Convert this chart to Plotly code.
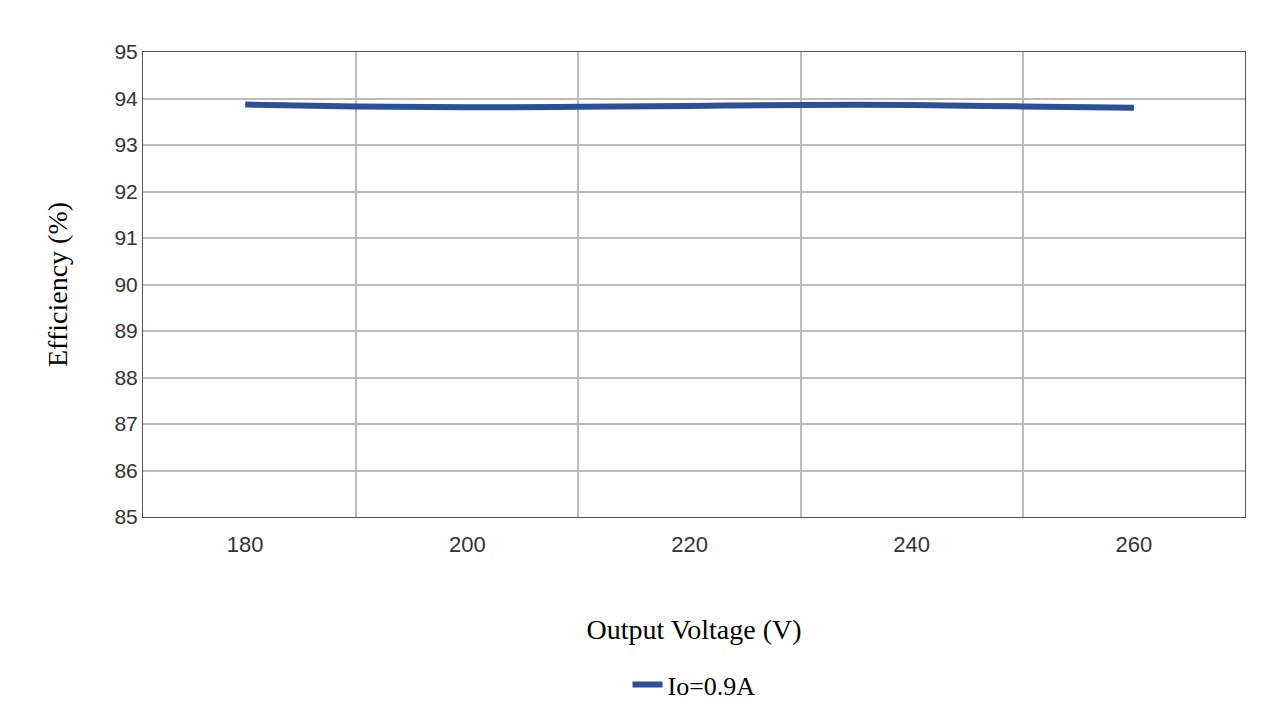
import plotly.graph_objects as go

voltage = [180, 190, 200, 210, 220, 230, 240, 250, 260]
efficiency = [93.87, 93.83, 93.81, 93.82, 93.84, 93.86, 93.86, 93.83, 93.8]

fig = go.Figure()
fig.add_trace(go.Scatter(x=voltage, y=efficiency, mode="lines", name="Io=0.9A",
                         line=dict(color="#2c4f98", width=6, shape="spline")))
fig.update_layout(
    width=1280, height=720, paper_bgcolor="white", plot_bgcolor="white",
    margin=dict(l=135, r=43, t=44, b=211),
    showlegend=True,
    legend=dict(orientation="h", x=0.5, xanchor="center", y=-0.31, yanchor="top",
                font=dict(family="Liberation Serif", size=26, color="black")),
    xaxis=dict(range=[170.8, 270], tick0=180, dtick=20, showgrid=False,
               ticks="outside", ticklen=8, tickcolor="rgba(0,0,0,0)",
               showline=True, linecolor="#555", mirror=True,
               tickfont=dict(family="Liberation Sans", size=22, color="#333"),
               minor=dict(tick0=190, dtick=20, showgrid=True, gridcolor="#bbb", gridwidth=1.5),
               title=dict(text="Output Voltage (V)", standoff=62,
                          font=dict(family="Liberation Serif", size=28, color="black")),
               zeroline=False),
    yaxis=dict(range=[85, 95], dtick=1, showgrid=True, gridcolor="#bbb", gridwidth=1.5,
               showline=True, linecolor="#555", mirror=True, ticks="",
               tickfont=dict(family="Liberation Sans", size=21, color="#333"),
               title=dict(text="Efficiency (%)", standoff=38,
                          font=dict(family="Liberation Serif", size=28, color="black")),
               zeroline=False),
)
fig.write_html("out.html")
